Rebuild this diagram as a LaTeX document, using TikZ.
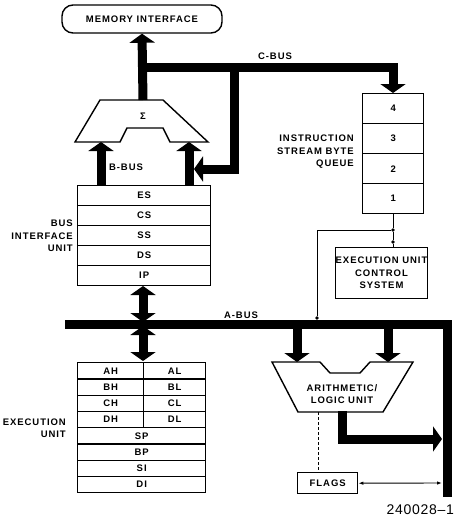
\documentclass[tikz,border=0pt]{standalone}
\usepackage{fontspec}
\setmainfont{Liberation Sans}[LetterSpace=10]
\newfontfamily\figfont{Liberation Sans}[LetterSpace=5]
\usetikzlibrary{arrows.meta}
\begin{document}
\begin{tikzpicture}[x=1pt,y=-1pt,
  lbl/.style={font=\fontsize{9.5}{12.5}\selectfont\bfseries, inner sep=0pt},
  box/.style={draw, line width=1.4pt, lbl},
  reg/.style={box, minimum width=133pt, minimum height=20pt, anchor=north west},
  hreg/.style={box, minimum width=66pt, minimum height=16.25pt, anchor=north west},
  hregr/.style={box, minimum width=62pt, minimum height=16.25pt, anchor=north west},
  freg/.style={box, minimum width=128pt, minimum height=16.25pt, anchor=north west},
  qreg/.style={box, minimum width=61pt, minimum height=30pt, anchor=north west},
  bus/.style={line width=9pt, line join=miter},
  tip/.style={-{Triangle[width=25pt,length=9pt]}},
  dtip/.style={{Triangle[width=25pt,length=9pt]}-{Triangle[width=25pt,length=9pt]}},
  thinl/.style={line width=0.9pt},
  dot/.style={circle, fill, inner sep=0pt, minimum size=3.6pt}
]
\useasboundingbox (0,0) rectangle (456,522);

% memory interface
\node[box, rounded corners=11pt, minimum width=160pt, minimum height=28pt] (mem) at (142,19) {MEMORY INTERFACE};

% sigma adder
\draw[line width=1.4pt] (100,100) -- (163,100) -- (208,142) -- (170,142) -- (163,128)
  -- (127,128) -- (120,142) -- (75,142) -- cycle;
\node[lbl] (sig) at (143,116) {Σ};
\coordinate (sigtop) at (143,100);
\coordinate (sigL) at (101,142);
\coordinate (sigR) at (189,142);

% BIU registers
\node[reg] (ES) at (77,185) {ES};
\node[reg] (CS) at (77,205) {CS};
\node[reg] (SS) at (77,225) {SS};
\node[reg] (DS) at (77,245) {DS};
\node[reg] (IP) at (77,265) {IP};
\node[lbl, align=right, anchor=east] (biul) at (73,236) {BUS\\INTERFACE\\UNIT};

% EU registers
\node[hreg] (AH) at (77,362) {AH};
\node[hregr] (AL) at (143,362) {AL};
\node[hreg] (BH) at (77,378.25) {BH};
\node[hregr] (BL) at (143,378.25) {BL};
\node[hreg] (CH) at (77,394.5) {CH};
\node[hregr] (CL) at (143,394.5) {CL};
\node[hreg] (DH) at (77,410.75) {DH};
\node[hregr] (DL) at (143,410.75) {DL};
\node[freg] (SP) at (77,427) {SP};
\node[freg] (BP) at (77,443.25) {BP};
\node[freg] (SI) at (77,459.5) {SI};
\node[freg] (DI) at (77,475.75) {DI};
\node[lbl, align=right, anchor=east] (eul) at (66,428) {EXECUTION\\UNIT};

% queue
\node[qreg] (q4) at (362,93) {4};
\node[qreg] (q3) at (362,123) {3};
\node[qreg] (q2) at (362,153) {2};
\node[qreg] (q1) at (362,183) {1};
\node[lbl, align=right, anchor=east] (ql) at (354,152) {INSTRUCTION\\STREAM BYTE\\QUEUE};

% EU control system
\node[box, minimum width=88pt, minimum height=51pt, anchor=north west, align=center]
  (eucs) at (335,247) {EXECUTION UNIT\\CONTROL\\SYSTEM};

% ALU
\draw[line width=1.4pt] (272,362) -- (320,362) -- (330,373) -- (360,373) -- (370,362)
  -- (413,362) -- (383,412) -- (298,412) -- cycle;
\node[lbl, align=center] (alu) at (342,394) {ARITHMETIC/\\LOGIC UNIT};

% flags
\node[box, minimum width=60pt, minimum height=21pt, anchor=north west] (flags) at (297,472) {FLAGS};

% coordinates for buses
\coordinate (cb0) at (139,67);
\coordinate (qin) at (393,93);
\coordinate (cbr) at (234,67);
\coordinate (cbl) at (194,169);
\coordinate (ab0) at (65,324);
\coordinate (abc) at (447,324);
\coordinate (abe) at (447,497);
\coordinate (bA) at (143,286);
\coordinate (bB) at (143,322);
\coordinate (bC) at (143,326);
\coordinate (bD) at (143,361);
\coordinate (aluLtop) at (297,328);
\coordinate (aluL) at (297,362);
\coordinate (aluRtop) at (388,328);
\coordinate (aluR) at (388,362);
\coordinate (aluout) at (342,411);
\coordinate (aluoute) at (442,439);

% buses
\draw[bus, tip] (sigtop) -- (mem.south);
\draw[bus, tip] (cb0) -| (qin);
\draw[bus, tip] (cbr) |- (cbl);
\draw[bus, tip] (ES.north -| sigL) -- (sigL);
\draw[bus, tip] (ES.north -| sigR) -- (sigR);
\node[lbl] (cbusl) at (275,56) {C-BUS};
\node[lbl] (bbusl) at (126,167) {B-BUS};

\draw[bus] (ab0) -- (abc) -- (abe);
\node[lbl] (abusl) at (241,315) {A-BUS};
\draw[bus, dtip] (bA) -- (bB);
\draw[bus, dtip] (bC) -- (bD);
\draw[bus, tip] (aluLtop) -- (aluL);
\draw[bus, tip] (aluRtop) -- (aluR);
\draw[bus, tip] (aluout) |- (aluoute);

% thin control lines
\coordinate (qb) at (393,213);
\node[dot] (j1) at (393,230) {};
\node[dot] (j2) at (393,242) {};
\coordinate (ec) at (393,247);
\coordinate (jl) at (317,230);
\node[dot] (j3) at (317,318) {};
\draw[thinl] (qb) -- (j1) -- (j2) -- (ec);
\draw[thinl] (j1) -- (jl) -- (j3);

\draw[thinl, dash pattern=on 3pt off 2pt] (318,412) -- (flags.north -| 318,0);
\coordinate (fa) at (442,483);
\draw[thinl, {Latex[length=5pt,width=3.5pt]}-{Latex[length=5pt,width=3.5pt]}] (flags.east) -- (fa);

\node[font=\figfont\fontsize{14}{16}\selectfont, anchor=east, inner sep=0pt] (fig) at (454,510) {240028–1};
\end{tikzpicture}
\end{document}
